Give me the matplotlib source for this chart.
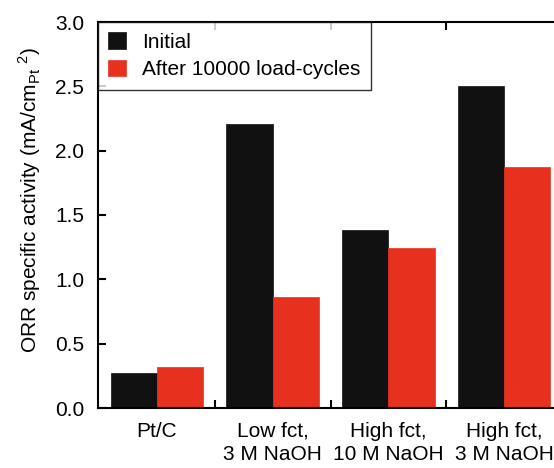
import numpy as np
from matplotlib import pyplot as plt

plt.rcParams['font.family'] = ['Liberation Sans', 'DejaVu Sans']
plt.rcParams['mathtext.fontset'] = 'custom'
plt.rcParams['mathtext.rm'] = 'Liberation Sans'

categories = ["Pt/C", "Low fct,\n3 M NaOH", "High fct,\n10 M NaOH", "High fct,\n3 M NaOH"]
initial = [0.275, 2.21, 1.38, 2.50]
after_cycles = [0.32, 0.865, 1.24, 1.875]
series_names = ["Initial", "After 10000 load-cycles"]

red = '#e8301e'
x = np.arange(1, len(categories) + 1)
w = 0.4
fs = 15

fig = plt.figure(figsize=(5.54, 4.68), dpi=100)
# the original is cut off on the right, so the axes run past the figure edge
ax = fig.add_axes([98 / 554, 60 / 468, (562 - 98) / 554, (408 - 22) / 468])

ax.bar(x - w / 2, initial, w, color='#111111', edgecolor='#111111', linewidth=0.5, label=series_names[0])
ax.bar(x + w / 2, after_cycles, w, color=red, edgecolor=red, linewidth=0.5, label=series_names[1])

ax.set_xlim(0.49, 4.5)
ax.set_ylim(0, 3.0)
ax.set_yticks(np.arange(0, 3.01, 0.5))
ax.set_yticklabels([f"{v:.1f}" for v in np.arange(0, 3.01, 0.5)])
ax.set_xticks(x)
ax.set_xticklabels(categories, linespacing=1.25)
ax.set_xticks(x[:-1] + 0.5, minor=True)

for s in ax.spines.values():
    s.set_linewidth(1.5)

ax.tick_params(axis='x', which='major', length=0, pad=10, labelsize=fs)
ax.tick_params(axis='x', which='minor', direction='in', length=6, width=1.5, top=True, bottom=True)
ax.tick_params(axis='y', direction='in', length=6, width=1.5, left=True, right=True, pad=10, labelsize=fs)

ax.set_ylabel(r"ORR specific activity (mA/cm$_{\mathrm{Pt}}$ $^{\mathrm{2}}$)", fontsize=fs)
ax.yaxis.set_label_coords(-0.118, 0.54)

leg = ax.legend(loc='upper left', fontsize=fs, frameon=True, fancybox=False, borderaxespad=0,
                handlelength=0.82, handleheight=0.82, handletextpad=0.8, borderpad=0.5,
                labelspacing=0.4)
leg.get_frame().set_edgecolor('black')
leg.get_frame().set_linewidth(1.0)

fig.savefig('out.png', dpi=100)
